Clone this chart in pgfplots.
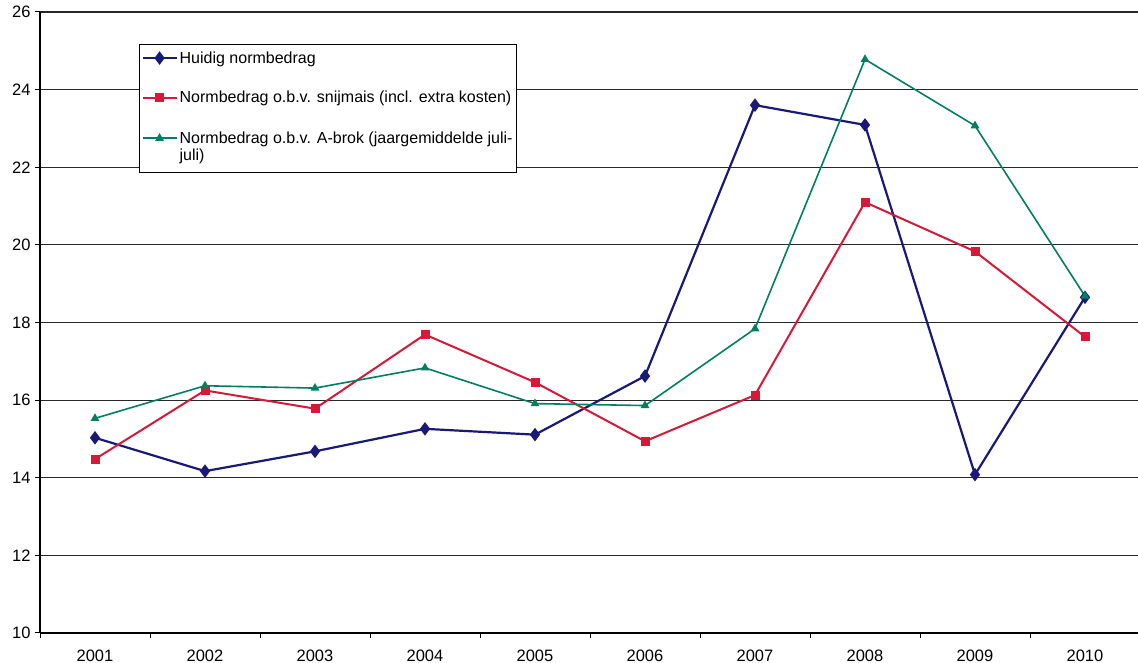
\documentclass[border=0pt]{standalone}
\usepackage{fontspec}
\setmainfont{Liberation Sans}
\usepackage{pgfplots}
\pgfplotsset{compat=1.18}
\definecolor{HBlue}{RGB}{25,25,120}
\definecolor{SRed}{RGB}{215,25,55}
\definecolor{AGreen}{RGB}{0,128,96}
\definecolor{GridGray}{RGB}{40,40,40}

\begin{document}
\begin{tikzpicture}
\begin{axis}[
    scale only axis,
    width=1100pt, height=621pt,
    xmin=0.5, xmax=10.5,
    ymin=10, ymax=26,
    ytick={10,12,...,26},
    xtick={1,...,10},
    xticklabels={2001,2002,2003,2004,2005,2006,2007,2008,2009,2010},
    minor xtick={0.5,1.5,...,10.5},
    axis x line*=bottom,
    axis y line*=left,
    axis line style={line width=1.4pt, black},
    ymajorgrids,
    major grid style={line width=1.2pt, GridGray},
    tick align=outside,
    major x tick style={draw=none},
    minor x tick style={line width=1pt, black},
    major y tick style={line width=1pt, black},
    minor tick length=5pt,
    major tick length=5pt,
    tick label style={font=\fontsize{16.5}{19}\selectfont},
    /pgf/number format/assume math mode=true,
    xticklabel style={yshift=-8pt},
    yticklabel style={xshift=-1pt},
    legend style={
        at={(rel axis cs:0.09,0.9485)}, anchor=north west,
        draw=black, line width=1pt,
        font=\fontsize{16}{17}\selectfont,
        inner xsep=2pt, inner ysep=5pt,
        row sep=21pt,
        nodes={inner sep=2pt, text depth=},
        cells={anchor=base west},
    },
    legend image code/.code={%
        \draw[mark repeat=2,mark phase=2,#1]
        plot coordinates {(0pt,5pt) (17pt,5pt) (34pt,5pt)};},
]
\addplot[HBlue, line width=2.2pt, mark=diamond*, mark size=5pt,
    mark options={solid}]
    coordinates {(1,15.03) (2,14.17) (3,14.68) (4,15.26) (5,15.11)
                 (6,16.62) (7,23.60) (8,23.09) (9,14.08) (10,18.65)};
\addlegendentry{Huidig normbedrag}
\addplot[SRed, line width=2pt, mark=square*, mark size=3.5pt]
    coordinates {(1,14.48) (2,16.25) (3,15.78) (4,17.69) (5,16.46)
                 (6,14.94) (7,16.13) (8,21.10) (9,19.83) (10,17.63)};
\addlegendentry{Normbedrag o.b.v. snijmais (incl. extra kosten)}
\addplot[AGreen, line width=1.6pt, mark=triangle*, mark size=3.5pt]
    coordinates {(1,15.53) (2,16.37) (3,16.31) (4,16.83) (5,15.91)
                 (6,15.86) (7,17.84) (8,24.78) (9,23.07) (10,18.68)};
\addlegendentry{\begin{tabular}[t]{@{}l@{}}Normbedrag o.b.v. A-brok (jaargemiddelde juli-\\juli)\end{tabular}}
\end{axis}
\pgfresetboundingbox
\path[use as bounding box] (-40pt,-30pt) rectangle (1098pt,633pt);
\end{tikzpicture}
\end{document}
